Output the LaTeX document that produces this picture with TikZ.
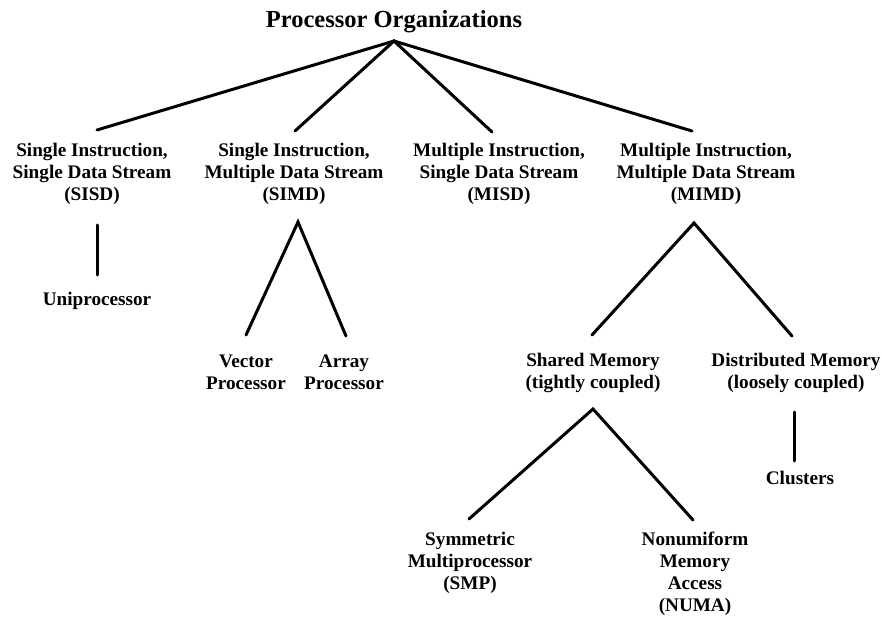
\documentclass[tikz,border=0pt]{standalone}
\usepackage{fontspec}
\setmainfont{Liberation Serif}
\begin{document}
\begin{tikzpicture}[x=1bp,y=-1bp,
  lbl/.style={anchor=base,align=center,inner sep=0pt,font=\fontsize{19.2bp}{22bp}\selectfont\bfseries},
  ttl/.style={anchor=base,inner sep=0pt,font=\fontsize{24.5bp}{28bp}\selectfont\bfseries},
  conn/.style={line width=3bp,line cap=round,line join=miter}]
\useasboundingbox (0,0) rectangle (882,618);
% nodes (anchor = baseline of the last line)
\node[ttl] (root) at (394,28) {Processor Organizations};
\node[lbl] (sisd) at (92,201) {Single Instruction,\\Single Data Stream\\(SISD)};
\node[lbl] (simd) at (294,201) {Single Instruction,\\Multiple Data Stream\\(SIMD)};
\node[lbl] (misd) at (499,201) {Multiple Instruction,\\Single Data Stream\\(MISD)};
\node[lbl] (mimd) at (706,201) {Multiple Instruction,\\Multiple Data Stream\\(MIMD)};
\node[lbl] (uni) at (97,305) {Uniprocessor};
\node[lbl] (vec) at (246,389) {Vector\\Processor};
\node[lbl] (arr) at (344,389) {Array\\Processor};
\node[lbl] (shm) at (593,388) {Shared Memory\\(tightly coupled)};
\node[lbl] (dsm) at (796,388) {Distributed Memory\\(loosely coupled)};
\node[lbl] (clu) at (800,484) {Clusters};
\node[lbl] (smp) at (470,589) {Symmetric\\Multiprocessor\\(SMP)};
\node[lbl] (numa) at (695,611) {Nonumiform\\Memory\\Access\\(NUMA)};
% connector end points
\coordinate (rootB) at (394,41);
\coordinate (sisdT) at (97,130);
\coordinate (simdT) at (295,131);
\coordinate (misdT) at (492,132);
\coordinate (mimdT) at (692,131);
\coordinate (sisdB) at (97,225);
\coordinate (uniT) at (97,275);
\coordinate (simdB) at (298,222);
\coordinate (vecT) at (246,335);
\coordinate (arrT) at (346,336);
\coordinate (mimdB) at (694,223);
\coordinate (shmT) at (592,335);
\coordinate (dsmT) at (792,336);
\coordinate (shmB) at (593,409);
\coordinate (smpT) at (469,519);
\coordinate (numaT) at (693,520);
\coordinate (dsmB) at (794,412);
\coordinate (cluT) at (794,461);
% connectors
\draw[conn] (sisdT) -- (rootB) -- (mimdT);
\draw[conn] (simdT) -- (rootB) -- (misdT);
\draw[conn] (sisdB) -- (uniT);
\draw[conn] (vecT) -- (simdB) -- (arrT);
\draw[conn] (shmT) -- (mimdB) -- (dsmT);
\draw[conn] (smpT) -- (shmB) -- (numaT);
\draw[conn] (dsmB) -- (cluT);
\end{tikzpicture}
\end{document}
